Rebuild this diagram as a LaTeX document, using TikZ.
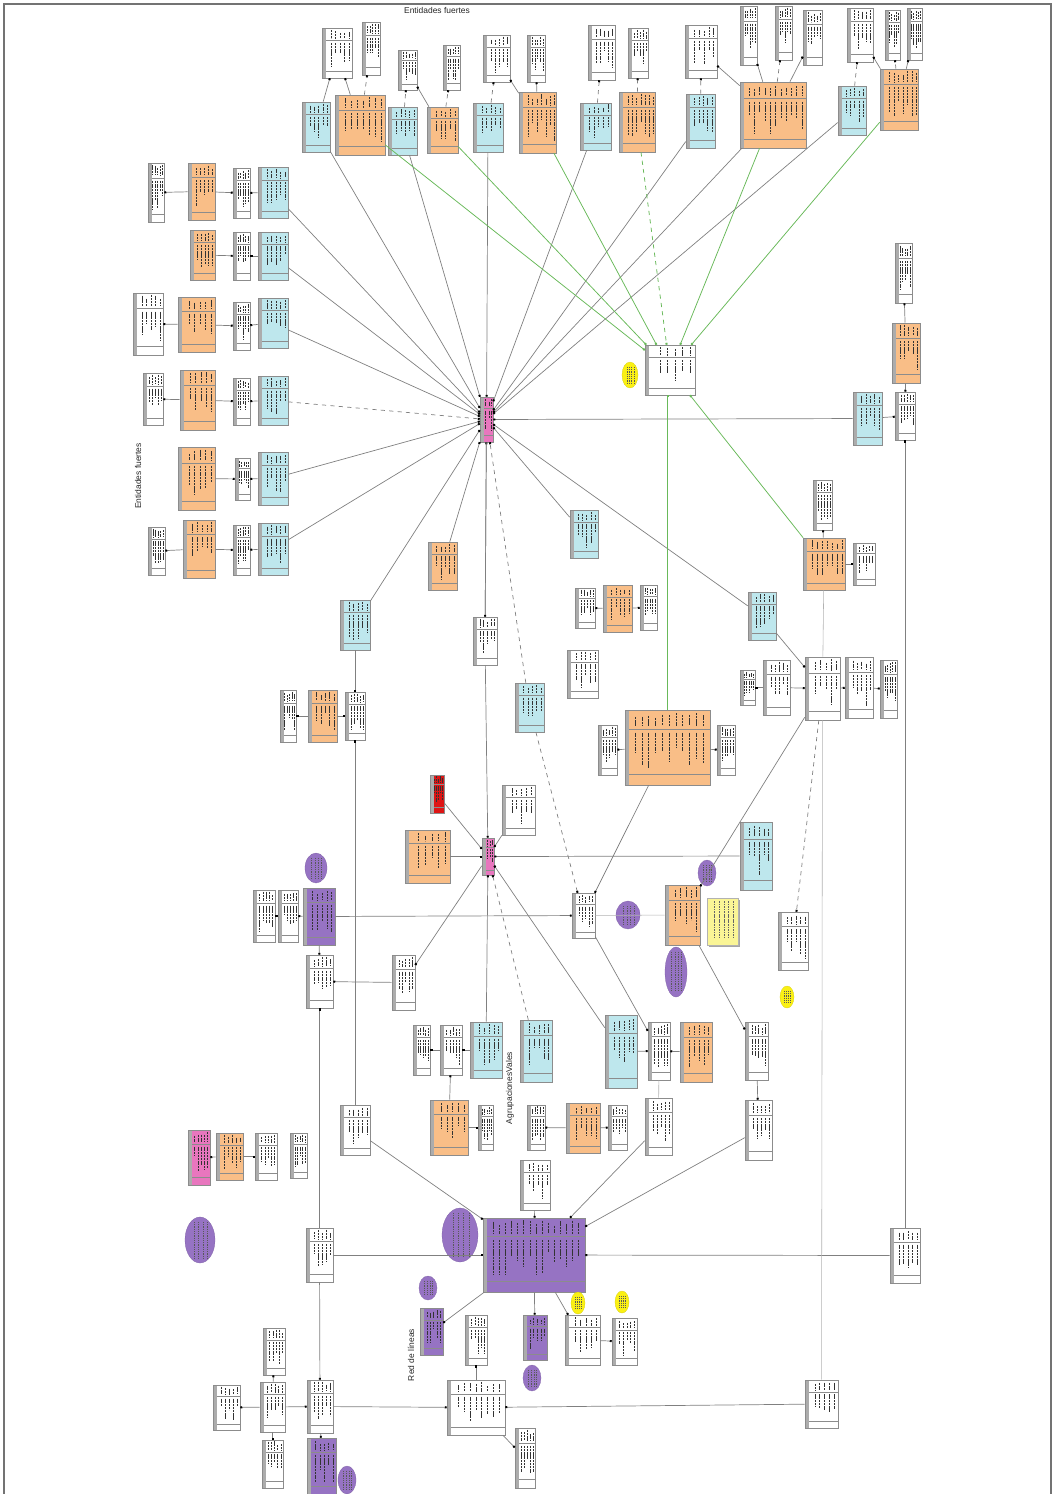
\documentclass[tikz,border=0pt]{standalone}
\usepackage{fontspec}
\setmainfont{Liberation Sans}
\usetikzlibrary{arrows.meta,calc,shapes.geometric}
\definecolor{entO}{RGB}{249,190,135}
\definecolor{relC}{RGB}{190,231,237}
\definecolor{prpV}{RGB}{150,115,195}
\definecolor{pnkM}{RGB}{232,118,190}
\definecolor{redR}{RGB}{222,20,20}
\definecolor{ylwE}{RGB}{250,240,20}
\definecolor{ylwN}{RGB}{250,245,150}
\definecolor{stripG}{RGB}{172,172,172}
\definecolor{lnkG}{RGB}{105,185,90}
\pgfmathsetseed{7}
\tikzset{
  tcols/.store in=\tcols, tcols={0.3,0.45,0.6,0.75,0.9},
  rows/.style={path picture={
    \fill[stripG] (path picture bounding box.north west) rectangle ([xshift=1.1mm]path picture bounding box.south west);
    \foreach \hf in {0.25,0.86}{
      \draw[black!45,line width=0.3pt] ($(path picture bounding box.north west)!\hf!(path picture bounding box.south west)+(1.1mm,0)$) -- ($(path picture bounding box.north east)!\hf!(path picture bounding box.south east)$);}
    \foreach \f in \tcols{
      \pgfmathsetmacro\fe{0.45+0.35*rnd}
      \pgfmathsetmacro\fs{0.03+0.08*rnd}
      \coordinate (pa) at ($(path picture bounding box.north west)!\f!(path picture bounding box.north east)$);
      \coordinate (pb) at ($(path picture bounding box.south west)!\f!(path picture bounding box.south east)$);
      \draw[black!80,line width=0.55pt,dash pattern=on 1.5pt off 0.5pt] ($(pa)!\fs!(pb)$) -- ($(pa)!0.21!(pb)$) ($(pa)!0.3!(pb)$) -- ($(pa)!\fe!(pb)$);}
  }},
  tbl/.style={draw=black!45,line width=0.4pt,inner sep=0pt,rows},
  wt/.style={tbl,fill=white},
  ent/.style={tbl,fill=entO},
  rel/.style={tbl,fill=relC},
  prp/.style={tbl,fill=prpV},
  pnk/.style={tbl,fill=pnkM},
  redb/.style={tbl,fill=redR},
  bubble/.style={inner sep=0pt,path picture={
    \foreach \f in {0.3,0.45,0.6,0.75}{
      \draw[black!65,line width=0.4pt,dash pattern=on 1pt off 0.6pt] ($(path picture bounding box.north west)!\f!(path picture bounding box.north east)+(0,-1.2mm)$) -- ($(path picture bounding box.south west)!\f!(path picture bounding box.south east)+(0,1.2mm)$);}
  }},
  notebox/.style={fill=ylwN,draw=black!30,line width=0.3pt,inner sep=0pt,path picture={
    \foreach \f in {0.25,0.4,0.55,0.7,0.85}{
      \draw[black!60,line width=0.4pt,dash pattern=on 1.2pt off 0.6pt] ($(path picture bounding box.north west)!\f!(path picture bounding box.north east)+(0,-0.8mm)$) -- ($(path picture bounding box.south west)!\f!(path picture bounding box.south east)+(0,1.5mm)$);}
  }},
  noteshad/.style={fill=black!35,inner sep=0pt},
  pe/.style={bubble,ellipse,fill=prpV,draw=prpV!85!black,line width=0.2pt},
  ye/.style={bubble,ellipse,fill=ylwE,draw=ylwE!85!black,line width=0.2pt},
  ln/.style={draw=black!50,line width=0.5pt,-{Square[length=1.4pt,width=1.4pt,black]}},
  lnd/.style={ln,dashed},
  gln/.style={draw=lnkG,line width=0.55pt,-{Square[length=1.4pt,width=1.4pt]}},
  glnd/.style={gln,dashed},
  bare/.style={draw=black!30,line width=0.4pt},
  lbl/.style={font=\fontsize{6}{7}\selectfont,inner sep=0pt,text=black!85},
}
\newcommand{\erbox}[6][wt]{\node[#1,minimum width={(#5-#3)*0.025cm},minimum height={(#6-#4)*0.025cm}] (#2) at ({(#3+#5)/2},{(#4+#6)/2}) {};}
\newcommand{\erell}[6][pe]{\node[#1,minimum width={#5*0.025cm},minimum height={#6*0.025cm}] (#2) at (#3,#4) {};}

\begin{document}
\begin{tikzpicture}[x=0.025cm,y=-0.025cm]
\useasboundingbox (0,0) rectangle (1056,1494);
\draw[black!55,line width=0.9pt] (4,1494) -- (4,4) -- (1051,4) -- (1051,1494);

% titles
\node[lbl] (ttl) at (437,10) {Entidades fuertes};
\node[lbl,rotate=90] (lblF) at (138,476) {Entidades fuertes};
\node[lbl,rotate=90] (lblA) at (510,1088) {AgrupacionesVales};
\node[lbl,rotate=90] (lblR) at (411,1355) {Red de líneas};

% strong entities, top row
\erbox{t1}{322}{28}{352}{78}
\erbox{t2}{362}{22}{380}{75}
\erbox{t3}{398}{50}{417}{90}
\erbox{t4}{443}{45}{460}{90}
\erbox{t5}{483}{35}{510}{82}
\erbox{t6}{527}{35}{545}{82}
\erbox{t7}{588}{25}{615}{80}
\erbox{t8}{628}{28}{648}{78}
\erbox{t9}{685}{25}{717}{78}
\erbox{t10}{740}{6}{757}{65}
\erbox{t11}{775}{6}{792}{60}
\erbox{t12}{803}{10}{822}{65}
\erbox{t13}{847}{8}{873}{62}
\erbox{t14}{885}{10}{900}{60}
\erbox{t15}{907}{8}{922}{60}
\erbox[rel]{e1}{302}{102}{330}{152}
\erbox[ent,tcols={0.2,0.32,0.44,0.56,0.68,0.8,0.92}]{e2}{335}{95}{385}{155}
\erbox[rel]{e3}{388}{107}{417}{155}
\erbox[ent]{e4}{427}{107}{458}{153}
\erbox[rel]{e5}{473}{103}{503}{152}
\erbox[ent,tcols={0.25,0.37,0.49,0.61,0.73,0.85,0.95}]{e6}{519}{92}{556}{153}
\erbox[rel]{e7}{580}{103}{611}{150}
\erbox[ent,tcols={0.25,0.37,0.49,0.61,0.73,0.85,0.95}]{e8}{619}{92}{655}{152}
\erbox[rel]{e9}{686}{94}{715}{148}
\erbox[ent,tcols={0.14,0.22,0.3,0.38,0.46,0.54,0.62,0.7,0.78,0.86,0.94}]{e10}{740}{82}{806}{148}
\erbox[rel]{e11}{838}{86}{866}{135}
\erbox[ent,tcols={0.25,0.37,0.49,0.61,0.73,0.85,0.95}]{e12}{880}{69}{918}{130}
\draw[ln] (e1) -- (t1);
\draw[ln] (e2) -- (t1);
\draw[lnd] (e2) -- (t2);
\draw[lnd] (e3) -- (t3);
\draw[ln] (e4) -- (t3);
\draw[lnd] (e4) -- (t4);
\draw[lnd] (e5) -- (t5);
\draw[ln] (e6) -- (t5);
\draw[ln] (e6) -- (t6);
\draw[lnd] (e7) -- (t7);
\draw[lnd] (e8) -- (t8);
\draw[lnd] (e9) -- (t9);
\draw[ln] (e10) -- (t9);
\draw[ln] (e10) -- (t10);
\draw[lnd] (e10) -- (t11);
\draw[ln] (e10) -- (t12);
\draw[lnd] (e11) -- (t13);
\draw[ln] (e12) -- (t13);
\draw[lnd] (e12) -- (t14);
\draw[ln] (e12) -- (t15);

% strong entities, left column
\erbox{l1w}{148}{163}{164}{222}
\erbox[ent]{l1o}{188}{163}{215}{220}
\erbox{l1m}{233}{168}{250}{218}
\erbox[rel]{l1c}{258}{167}{288}{218}
\erbox[ent]{l2o}{190}{230}{215}{280}
\erbox{l2m}{233}{232}{250}{280}
\erbox[rel]{l2c}{258}{232}{288}{280}
\erbox{l3w}{133}{293}{163}{355}
\erbox[ent]{l3o}{178}{297}{215}{352}
\erbox{l3m}{233}{302}{250}{350}
\erbox[rel]{l3c}{258}{298}{288}{348}
\erbox{l4w}{143}{373}{163}{425}
\erbox[ent]{l4o}{180}{370}{215}{430}
\erbox{l4m}{233}{378}{250}{425}
\erbox[rel]{l4c}{258}{376}{288}{425}
\erbox[ent]{l5o}{178}{447}{215}{510}
\erbox{l5m}{235}{458}{250}{500}
\erbox[rel]{l5c}{258}{452}{288}{505}
\erbox{l6w}{148}{527}{165}{575}
\erbox[ent]{l6o}{183}{520}{215}{578}
\erbox{l6m}{233}{525}{250}{575}
\erbox[rel]{l6c}{258}{523}{288}{575}
\foreach \r in {1,3,4,6}{\draw[ln] (l\r o) -- (l\r w);}
\foreach \r in {1,...,6}{\draw[ln] (l\r o) -- (l\r m); \draw[ln] (l\r c) -- (l\r m);}

% hub and its spokes
\erbox[pnk,tcols={0.45,0.7,0.9}]{h1}{480}{397}{493}{442}
\foreach \s in {1,2,3,5,6}{\draw[ln] (l\s c) -- (h1);}
\draw[lnd] (l4c) -- (h1);
\foreach \s in {e1,e3,e5,e7,e9,e10,e11}{\draw[ln] (\s) -- (h1);}

% targets of green links
\erbox{gt}{645}{345}{695}{395}
\erell[ye]{y1}{630}{375}{16}{26}
\draw[gln] (e2) -- (gt);
\draw[gln] (e4) -- (gt);
\draw[gln] (e6) -- (gt);
\draw[glnd] (e8) -- (gt);
\draw[gln] (e10) -- (gt);
\draw[gln] (e12) -- (gt);

% right column
\erbox[rel]{r1c}{853}{392}{882}{445}
\erbox{r1w}{895}{392}{915}{440}
\erbox[ent]{r1o}{892}{323}{920}{383}
\erbox{r2w}{895}{243}{912}{303}
\draw[ln] (r1c) -- (h1);
\draw[ln] (r1c) -- (r1w);
\draw[ln] (r1o) -- (r1w);
\draw[ln] (r1o) -- (r2w);

% middle band
\erbox[rel]{m1c}{570}{510}{598}{558}
\erbox[ent]{m2o}{428}{542}{457}{590}
\erbox[rel]{m3c}{340}{600}{370}{650}
\erbox{m4w}{473}{617}{497}{665}
\erbox[rel]{m5c}{515}{683}{544}{732}
\erbox{m6w}{575}{588}{595}{628}
\erbox[ent]{m6o}{603}{585}{632}{632}
\erbox{m6x}{640}{585}{657}{630}
\erbox{m7w}{567}{650}{598}{698}
\erbox[rel]{m8c}{748}{592}{776}{640}
\erbox[ent,tcols={0.22,0.34,0.46,0.58,0.7,0.82,0.94}]{m9o}{803}{538}{845}{590}
\erbox{m9a}{813}{480}{832}{530}
\erbox{m9b}{853}{543}{875}{585}
\erbox{cw}{805}{657}{840}{720}
\erbox{cw1}{740}{670}{755}{705}
\erbox{cw2}{763}{660}{790}{715}
\erbox{cw3}{845}{657}{873}{718}
\erbox{cw4}{880}{660}{897}{718}
\erbox[ent,tcols={0.12,0.2,0.28,0.36,0.44,0.52,0.6,0.68,0.76,0.84,0.92}]{bo}{625}{710}{710}{785}
\erbox{bo1}{598}{725}{617}{775}
\erbox{bo2}{717}{725}{735}{775}
\erbox{k1w}{280}{690}{296}{742}
\erbox[ent]{k1o}{308}{690}{337}{742}
\erbox{k1x}{345}{692}{365}{740}
\foreach \s in {m1c,m2o,m3c,m4w,m8c}{\draw[ln] (\s) -- (h1);}
\draw[lnd] (m5c) -- (h1);
\draw[ln] (m8c) -- (cw);
\draw[ln] (m9o) -- (m9a);
\draw[ln] (m9o) -- (m9b);
\draw[bare] (m9o) -- (cw);
\draw[ln] (cw2) -- (cw1);
\draw[ln] (cw2) -- (cw);
\draw[ln] (cw) -- (cw3);
\draw[ln] (cw3) -- (cw4);
\draw[ln] (m6o) -- (m6w);
\draw[ln] (m6o) -- (m6x);
\draw[ln] (bo) -- (bo1);
\draw[ln] (bo) -- (bo2);
\draw[gln] (bo.north) -- (bo.north |- gt.south);
\draw[gln] (m9o) -- (gt);
\draw[ln] (k1o) -- (k1w);
\draw[ln] (k1o) -- (k1x);
\draw[ln] (m3c) -- (k1x);

% second hub
\erbox[redb]{rd}{430}{775}{444}{813}
\erbox{n1w}{502}{785}{535}{835}
\erbox[pnk,tcols={0.45,0.7,0.9}]{h2}{482}{838}{494}{875}
\erbox[ent]{n2o}{405}{830}{450}{883}
\erbox[rel]{n3c}{740}{822}{772}{890}
\erell{pe1}{316}{868}{22}{30}
\erbox[prp]{pp1}{303}{888}{335}{945}
\erbox{pw1}{253}{890}{275}{942}
\erbox{pw2}{278}{890}{298}{942}
\erbox{n4w}{572}{893}{595}{938}
\erell{pe2}{628}{915}{24}{28}
\erbox[ent]{n5o}{665}{885}{700}{945}
\erell{pe3}{707}{873}{18}{26}
\erbox[noteshad]{ntS}{709}{900}{740}{947}
\erbox[notebox]{nt}{707}{898}{738}{945}
\erell{pe4}{676}{972}{22}{50}
\erbox{n6w}{778}{912}{808}{970}
\erell[ye]{y2}{787}{997}{14}{22}
\draw[ln] (h1) -- (m4w);
\draw[ln] (m4w) -- (h2);
\draw[ln] (rd) -- (h2);
\draw[ln] (n1w) -- (h2);
\draw[ln] (n2o) -- (h2);
\draw[ln] (n3c) -- (h2);
\draw[ln] (pp1) -- (pw2);
\draw[ln] (pw2) -- (pw1);
\draw[ln] (pp1) -- (n4w);
\draw[ln] (bo) -- (n4w);
\draw[lnd] (m5c) -- (n4w);
\draw[bare] (n4w) -- (n5o);
\draw[ln] (cw) -- (n5o);
\draw[lnd] (cw) -- (n6w);

% lower band
\erbox{q1}{306}{955}{333}{1008}
\erbox{q2}{392}{955}{415}{1010}
\erbox{a1}{413}{1025}{430}{1075}
\erbox{a2}{440}{1025}{462}{1075}
\erbox[rel]{a3}{470}{1022}{502}{1078}
\erbox[rel]{a4}{520}{1020}{552}{1082}
\erbox[rel]{a5}{605}{1015}{637}{1088}
\erbox{a6}{648}{1022}{670}{1080}
\erbox[ent]{a7}{680}{1022}{712}{1082}
\erbox{a8}{745}{1022}{768}{1080}
\erbox{b1}{340}{1105}{370}{1155}
\erbox[ent]{b2}{430}{1100}{468}{1155}
\erbox{b3}{478}{1105}{493}{1150}
\erbox{b4}{527}{1105}{545}{1150}
\erbox[ent]{b5}{566}{1103}{600}{1153}
\erbox{b6}{608}{1105}{627}{1150}
\erbox{b7}{645}{1098}{672}{1155}
\erbox{b8}{745}{1100}{772}{1160}
\erbox[pnk]{c1}{188}{1130}{210}{1185}
\erbox[ent]{c2}{216}{1133}{243}{1180}
\erbox{c3}{255}{1133}{277}{1180}
\erbox{c4}{290}{1133}{307}{1178}
\draw[ln] (h2) -- (q2);
\draw[ln] (a3) -- (h2);
\draw[lnd] (a4) -- (h2);
\draw[ln] (a5) -- (h2);
\draw[ln] (q2) -- (q1);
\draw[ln] (pp1) -- (q1);
\draw[ln] (a3) -- (a2);
\draw[ln] (a2) -- (a1);
\draw[ln] (b2) -- (a2);
\draw[ln] (b2) -- (b3);
\draw[ln] (a5) -- (a6);
\draw[ln] (a7) -- (a6);
\draw[ln] (n4w) -- (a6);
\draw[bare] (a6) -- (b7);
\draw[ln] (n5o) -- (a8);
\draw[ln] (a8) -- (b8);
\draw[ln] (b5) -- (b4);
\draw[ln] (b5) -- (b6);
\draw[ln] (b1) -- (k1x);
\draw[ln] (c2) -- (c1);
\draw[ln] (c2) -- (c3);

% line network
\erell{pe5}{200}{1240}{30}{46}
\erbox{d1}{520}{1160}{550}{1210}
\erbox[prp,tcols={0.1,0.16,0.22,0.28,0.34,0.4,0.46,0.52,0.58,0.64,0.7,0.76,0.82,0.88,0.94}]{bp}{483}{1218}{585}{1292}
\erell{pe6}{460}{1235}{36}{54}
\erbox{d2}{306}{1228}{333}{1282}
\erbox{d3}{890}{1228}{920}{1283}
\erell{pe7}{428}{1288}{18}{24}
\erbox[prp]{pp2}{420}{1308}{443}{1355}
\erbox{d4}{465}{1315}{487}{1365}
\erbox[prp]{pp3}{523}{1315}{547}{1360}
\erell{pe8}{532}{1378}{18}{26}
\erell[ye]{y3}{578}{1303}{14}{22}
\erell[ye]{y4}{622}{1302}{14}{22}
\erbox{d5}{565}{1315}{600}{1365}
\erbox{d6}{612}{1318}{637}{1365}
\erbox{g1}{263}{1328}{285}{1375}
\erbox{g2}{213}{1385}{240}{1430}
\erbox{g3}{260}{1382}{285}{1432}
\erbox{g4}{307}{1380}{333}{1433}
\erbox{g5}{262}{1440}{283}{1488}
\erbox[prp]{pp4}{307}{1438}{336}{1494}
\erell{pe9}{347}{1480}{18}{28}
\erbox[wt,tcols={0.2,0.3,0.4,0.5,0.6,0.7,0.8,0.9}]{g6}{447}{1380}{505}{1435}
\erbox{g7}{515}{1428}{535}{1488}
\erbox{g8}{805}{1380}{838}{1428}
\draw[ln] (b1) -- (bp);
\draw[ln] (b7) -- (bp);
\draw[ln] (b8) -- (bp);
\draw[ln] (d1) -- (bp);
\draw[ln] (d2) -- (bp);
\draw[ln] (d3) -- (bp);
\draw[ln] (d3) -- (r1w);
\draw[ln] (d2) -- (q1);
\draw[ln] (bp) -- (pp3);
\draw[ln] (bp) -- (d5);
\draw[ln] (bp) -- (pp2);
\draw[ln] (d5) -- (d6);
\draw[ln] (g6) -- (d4);
\draw[ln] (d2) -- (g4);
\draw[ln] (g4) -- (g6);
\draw[ln] (g3) -- (g2);
\draw[ln] (g3) -- (g4);
\draw[ln] (g3) -- (g1);
\draw[ln] (g3) -- (g5);
\draw[ln] (g4) -- (pp4);
\draw[ln] (g6) -- (g7);
\draw[ln] (g8) -- (g6);
\draw[bare] (cw) -- (g8);
\end{tikzpicture}
\end{document}
